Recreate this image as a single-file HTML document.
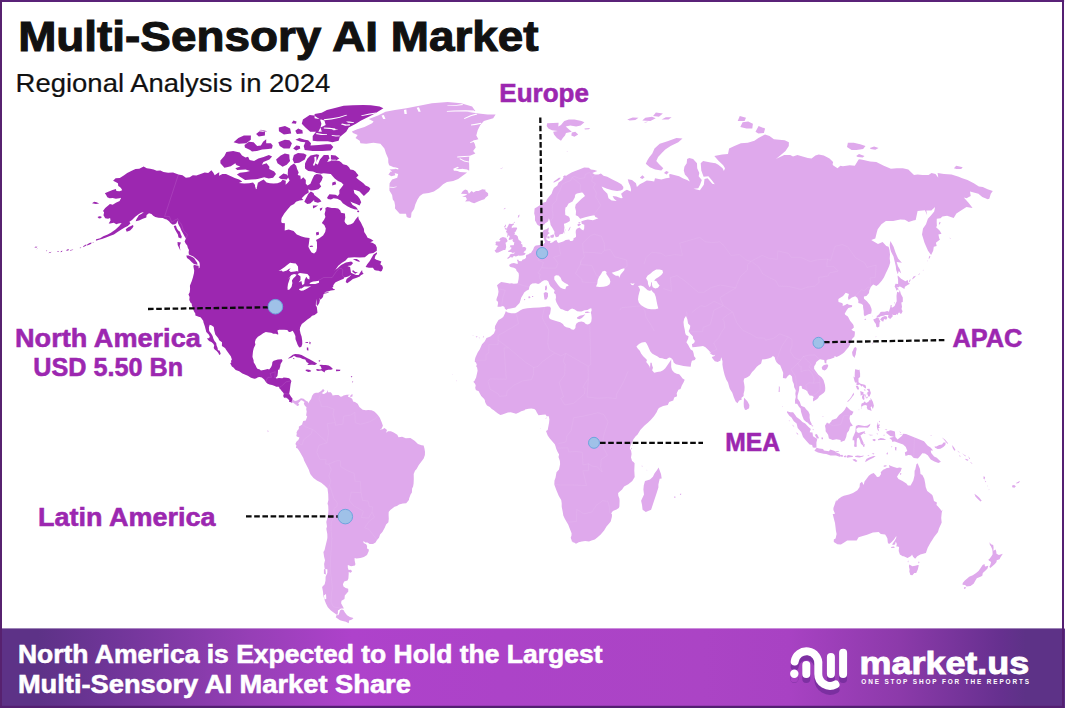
<!DOCTYPE html>
<html lang="en">
<head>
<meta charset="utf-8">
<title>Multi-Sensory AI Market - Regional Analysis in 2024</title>
<style>
html,body{margin:0;padding:0;background:#fff;}
body{width:1065px;height:708px;overflow:hidden;font-family:"Liberation Sans",sans-serif;}
svg{display:block;position:absolute;left:0;top:0;}
text{font-family:"Liberation Sans",sans-serif;}
.b{font-weight:bold;}
.lbl{font-weight:bold;font-size:25.2px;fill:#9c27b0;stroke:#9c27b0;stroke-width:0.55;}
.ft{font-weight:bold;font-size:24.9px;fill:#fff;stroke:#fff;stroke-width:0.55;}
.dash{stroke:#0a0a0a;stroke-width:2.3;stroke-dasharray:5.6 2.6;fill:none;}
.dot{fill:#9fc1e8;stroke:#6ea4de;stroke-width:1;}
</style>
</head>
<body>
<svg width="1065" height="708" viewBox="0 0 1065 708">
<defs>
<linearGradient id="fg" gradientUnits="userSpaceOnUse" x1="0" y1="0" x2="1065" y2="0">
<stop offset="0" stop-color="#5d3287"/>
<stop offset="0.036" stop-color="#5d3287"/>
<stop offset="0.10" stop-color="#6e3597"/>
<stop offset="0.235" stop-color="#963fb6"/>
<stop offset="0.33" stop-color="#ae42cb"/>
<stop offset="0.47" stop-color="#ac43c8"/>
<stop offset="0.66" stop-color="#ab44c5"/>
<stop offset="0.74" stop-color="#a842c3"/>
<stop offset="0.845" stop-color="#8c3aaa"/>
<stop offset="0.94" stop-color="#66308f"/>
<stop offset="0.963" stop-color="#5d3287"/>
<stop offset="1" stop-color="#5d3287"/>
</linearGradient>
</defs>
<rect x="0" y="0" width="1065" height="708" fill="#fff"/>
<!-- world map -->
<g id="map" stroke-linejoin="round">
<path d="M292.5 398.5L293.3 399.9L295.0 400.9L297.2 400.5L299.5 399.3L300.9 398.3L303.6 398.8L305.3 400.2L306.8 401.3L306.5 405.7L305.1 406.0L304.3 404.7L303.8 403.1L304.7 402.1L303.3 401.2L301.9 400.2L300.5 400.5L300.0 401.5L298.8 402.5L298.2 403.4L299.3 404.7L298.2 405.8L296.8 406.0L296.3 404.4L295.2 404.4L294.3 403.4L293.0 402.6L291.3 403.3ZM395.3 175.3L391.3 176.3L388.4 174.4L390.7 171.5L394.3 172.0ZM465.1 201.4L469.3 201.2L471.8 202.5L474.2 203.2L478.1 201.6L481.9 200.1L484.4 199.2L485.7 197.4L488.2 195.6L488.1 193.3L485.2 191.1L485.7 189.7L482.3 189.3L478.5 190.9L476.0 190.9L473.5 192.4L471.6 191.1L468.9 193.8L467.4 190.2L465.2 189.5L462.9 191.1L461.0 193.8L466.0 194.0L467.2 194.7L462.1 196.7L465.8 196.9L466.9 199.2ZM409.2 218.1L406.7 217.0L406.0 213.8L399.7 213.8L397.7 211.5L395.0 208.4L395.1 205.4L394.3 201.4L392.8 199.6L392.1 195.1L389.4 190.6L389.4 187.2L389.6 183.3L392.1 179.6L397.2 177.7L398.2 173.9L394.2 173.0L389.5 169.6L395.9 169.1L392.6 166.7L389.1 165.3L388.3 162.4L388.2 158.4L386.0 153.5L384.4 148.4L380.4 143.8L373.5 142.8L366.2 143.8L360.4 143.3L359.7 140.7L355.5 138.1L357.7 135.0L353.0 132.9L351.9 131.6L357.2 129.2L364.5 127.0L372.1 123.3L373.6 121.6L368.8 118.9L378.0 115.6L385.5 111.7L394.9 110.0L406.4 108.3L418.0 106.1L431.9 103.2L447.7 102.1L461.1 103.2L472.1 106.6L475.3 111.1L467.3 111.7L478.5 113.6L487.6 114.5L495.6 114.5L493.2 118.3L483.9 121.1L480.3 124.9L477.7 130.2L476.3 135.5L478.4 139.2L472.9 140.7L474.7 143.8L475.7 147.4L473.1 150.9L475.4 153.5L469.3 155.9L469.0 160.9L469.2 165.8L469.2 170.6L462.5 168.7L455.1 170.1L459.9 172.0L467.1 172.5L463.3 175.3L458.2 179.1L453.2 181.0L447.0 181.9L443.1 184.2L439.1 187.9L433.9 191.5L428.8 192.9L423.0 193.8L419.8 196.0L417.5 199.6L415.3 204.5L414.1 208.9L411.5 212.7L411.0 217.5ZM343.5 609.9L344.9 612.5L347.1 615.3L349.9 617.1L353.5 617.9L352.0 619.4L349.1 620.6L348.7 623.2L345.9 621.8L342.7 621.0L340.0 620.2L335.7 617.3L336.7 614.9L338.3 615.3L339.3 612.9L340.0 610.5L341.6 609.5ZM325.4 568.6L323.9 569.4L323.9 573.8L325.9 574.5L325.7 571.2ZM349.8 396.8L351.0 394.8L352.7 394.3L352.3 396.7ZM380.6 429.6L383.7 429.0L387.0 430.0L385.9 433.1L383.1 434.1L380.6 432.2ZM326.0 594.1L323.8 595.6L324.6 599.5L326.3 598.7ZM306.8 401.3L308.0 401.8L308.4 403.6L309.4 401.2L311.1 398.9L312.1 395.7L313.8 393.6L315.8 392.8L318.3 392.8L321.1 391.1L323.0 389.1L324.5 390.2L323.9 391.5L322.0 393.1L323.0 394.0L324.6 393.8L326.6 392.5L326.9 391.9L327.5 389.9L328.0 392.2L330.8 392.3L332.1 394.1L332.6 395.4L335.7 395.1L338.5 395.1L340.7 396.7L342.0 396.5L343.5 395.4L346.8 394.8L349.9 394.8L347.9 395.7L348.2 396.7L350.9 397.7L352.3 398.9L353.1 401.5L355.0 402.1L357.7 403.8L359.4 407.1L362.7 409.8L366.0 410.3L368.2 410.0L371.5 410.3L374.3 411.4L376.2 413.2L378.0 415.3L379.8 417.8L381.8 422.6L382.9 425.8L381.7 428.4L379.8 430.0L382.6 429.3L384.5 428.0L387.0 430.0L385.6 433.1L388.1 431.2L390.9 431.2L393.7 432.5L397.3 434.7L398.5 437.3L402.1 436.7L405.7 438.3L410.4 438.1L414.6 440.8L418.0 444.0L421.6 445.3L423.6 445.6L424.4 448.2L425.0 451.8L424.9 454.9L423.7 458.4L420.7 462.6L418.8 464.9L416.6 469.0L415.0 470.7L413.7 473.9L413.8 478.8L413.6 483.6L413.1 486.6L412.1 488.6L411.9 492.5L410.6 494.5L409.1 498.4L408.9 500.1L406.2 503.2L402.9 503.4L399.1 504.4L397.0 506.1L394.5 506.7L390.3 510.1L388.7 512.1L388.6 515.1L388.8 518.8L388.4 522.2L386.1 524.6L384.6 528.0L382.4 532.1L380.1 534.5L379.0 537.7L377.0 539.9L375.5 542.5L373.0 544.1L369.7 543.9L367.4 542.5L365.1 542.4L363.5 540.8L363.6 542.9L366.2 544.3L367.1 546.0L367.0 548.5L368.7 549.2L368.8 551.0L367.0 554.9L363.9 557.1L360.5 558.1L356.5 558.5L354.6 557.9L354.6 560.3L355.4 563.9L355.0 565.4L351.1 566.3L347.8 565.0L347.8 567.5L348.6 570.1L350.9 569.7L352.1 571.2L350.7 572.7L348.7 571.9L348.7 574.1L348.4 578.6L347.5 580.5L344.2 581.6L342.9 584.2L343.5 586.5L345.7 588.0L348.2 588.8L348.3 591.4L344.8 595.6L344.5 599.1L341.5 600.7L341.1 603.2L343.9 608.5L341.0 608.5L337.9 610.5L337.9 613.3L337.2 614.9L334.3 612.9L330.9 610.5L327.8 607.3L325.9 603.4L324.4 599.5L323.3 595.6L323.0 591.8L322.1 586.9L324.7 584.2L325.5 580.5L325.6 576.7L327.3 573.0L327.4 569.4L324.6 568.6L324.1 563.9L325.0 560.3L324.1 556.7L323.4 552.1L324.5 550.3L325.5 546.0L327.2 539.1L327.4 537.3L327.3 533.9L326.3 528.7L327.0 526.6L326.3 521.9L327.6 516.8L328.2 513.4L328.4 510.1L328.2 505.6L327.5 503.7L328.4 500.1L328.2 494.1L327.5 488.6L324.6 485.6L321.2 482.7L316.9 480.4L313.5 478.1L310.6 474.5L310.0 473.3L308.7 469.4L307.7 467.6L306.0 464.2L304.2 460.7L303.3 458.1L301.3 454.6L299.6 451.4L297.6 448.5L295.9 447.8L296.4 445.6L295.4 443.9L296.6 441.4L298.3 439.9L299.1 438.6L299.3 437.0L298.2 437.3L296.6 436.3L296.3 436.0L296.8 433.8L296.5 432.4L297.6 430.3L298.8 429.0L298.9 426.4L300.0 426.0L302.1 424.5L302.4 423.3L303.2 421.0L305.8 420.4L307.2 416.6L306.1 415.6L306.7 411.4L306.2 409.2L306.5 407.3L305.1 406.0L306.5 405.7ZM506.7 310.2L504.8 308.4L504.5 307.0L502.9 305.9L500.5 306.7L497.5 306.7L498.1 303.1L497.9 301.7L496.3 300.2L496.8 298.1L497.9 295.2L498.5 291.7L498.0 288.6L497.0 285.3L499.7 283.1L501.3 282.0L505.8 282.7L509.8 283.5L511.7 283.3L513.8 283.7L517.0 283.5L517.8 283.1L518.6 279.0L518.9 275.3L518.6 273.0L516.5 270.8L516.0 268.9L513.9 267.7L510.5 267.0L509.4 266.0L509.3 264.7L511.3 263.5L513.9 262.9L516.5 263.7L517.9 263.7L517.6 261.6L516.8 259.7L518.4 259.7L518.9 261.0L521.3 261.2L522.1 260.4L522.3 259.7L524.7 258.9L526.0 257.7L526.0 255.8L526.6 254.8L528.1 254.4L529.4 253.6L530.9 253.0L532.2 251.0L533.2 249.5L534.1 246.9L535.8 245.5L539.7 245.1L540.5 243.9L542.5 243.9L543.8 244.3L544.3 243.1L545.1 243.1L544.8 241.5L544.0 239.1L543.2 236.6L542.6 234.6L542.6 232.1L543.8 230.0L546.4 229.2L548.9 227.4L548.5 230.5L548.2 232.1L549.8 232.9L548.0 234.2L547.0 236.6L546.3 238.6L546.3 239.5L548.2 241.1L550.5 241.1L550.0 242.9L551.6 242.7L553.1 242.1L554.1 240.9L556.4 240.1L557.5 242.3L558.8 243.1L559.3 242.7L563.2 241.5L565.7 239.9L569.3 239.5L570.1 241.1L572.2 241.1L573.5 239.9L573.4 238.6L575.9 237.0L576.1 235.8L575.7 232.5L575.8 230.5L576.8 228.8L579.6 227.4L581.2 229.2L583.3 230.5L584.2 228.4L584.3 224.8L581.7 223.8L581.3 221.3L584.6 220.2L587.8 219.6L593.0 220.2L598.4 218.3L595.3 217.0L594.4 215.3L590.2 216.0L585.2 217.2L580.2 218.7L578.0 216.2L575.7 215.3L575.9 213.2L576.0 211.0L575.1 207.5L575.7 204.5L578.8 201.4L581.6 198.7L585.0 196.0L582.8 192.7L581.5 192.4L576.9 193.6L575.2 194.7L574.8 197.4L572.5 201.4L568.6 203.6L566.8 206.7L565.5 207.5L565.1 210.6L565.3 214.9L568.7 216.6L569.8 218.3L569.9 220.9L567.4 222.5L565.1 223.4L563.9 223.8L564.5 227.4L563.9 231.9L562.9 233.8L561.9 234.0L559.6 234.6L558.6 236.4L557.4 237.0L555.8 237.2L555.3 236.2L554.5 234.4L554.2 232.9L554.6 231.9L552.2 227.6L550.6 225.1L550.1 222.1L548.9 218.3L548.2 220.9L547.3 222.1L545.5 223.0L544.2 224.4L542.2 225.9L539.8 226.3L537.1 224.6L536.1 222.3L535.0 220.4L535.0 216.2L534.2 213.6L534.4 211.0L534.6 208.4L537.1 207.1L541.1 204.5L543.1 202.7L546.1 201.8L546.8 199.6L549.2 196.5L551.6 193.8L552.7 190.6L553.9 187.9L557.3 185.6L558.6 182.4L562.2 180.0L563.3 177.7L568.1 174.4L571.6 172.5L575.2 171.1L579.2 169.6L584.2 167.5L588.8 167.7L590.9 169.6L594.5 170.1L597.3 171.1L592.3 173.0L594.8 174.4L598.5 174.4L600.9 173.4L603.5 175.8L607.2 176.7L612.4 179.6L617.5 181.9L621.4 184.2L623.4 187.0L623.1 189.3L620.8 190.6L617.1 191.1L612.1 190.2L607.0 188.8L601.6 186.5L603.4 189.7L607.4 193.8L608.5 198.3L611.7 200.5L616.7 201.0L614.0 198.7L612.6 196.0L616.3 196.5L621.0 198.3L622.7 198.1L621.1 193.8L624.5 191.1L626.9 189.7L630.8 191.5L631.0 189.3L630.2 186.1L628.6 182.4L627.8 179.3L632.0 180.0L636.0 183.3L636.9 187.0L639.8 184.2L643.3 182.4L646.7 180.5L651.7 181.0L654.2 181.4L655.0 178.2L661.3 179.6L666.0 178.2L669.6 177.7L669.1 174.4L670.3 173.9L679.1 176.3L683.2 178.6L687.1 180.0L689.8 181.4L687.9 177.7L684.9 174.4L683.8 170.6L684.4 166.7L686.7 163.3L687.1 158.9L689.3 157.9L693.1 158.9L697.0 163.3L697.2 168.2L699.3 173.0L698.7 176.3L701.8 180.0L700.1 184.7L698.3 188.3L693.5 188.8L699.9 190.2L703.8 184.7L704.5 179.1L707.6 178.2L712.3 183.7L714.8 184.2L711.6 180.0L708.4 176.3L703.6 176.7L701.3 170.6L700.7 163.3L703.1 160.9L708.1 161.9L710.6 162.4L715.6 163.3L718.3 164.8L722.6 168.2L723.9 171.1L725.0 168.2L723.2 165.3L718.7 160.9L714.3 155.9L722.1 154.5L728.0 154.0L729.1 148.4L734.4 145.9L740.9 143.3L747.8 142.8L754.4 140.7L758.4 138.1L765.0 134.4L769.5 136.0L773.9 139.2L784.7 140.2L788.9 142.3L788.8 145.9L785.5 150.9L782.6 153.5L777.8 157.4L775.8 158.9L784.2 155.0L790.2 155.0L793.0 156.4L797.4 155.0L807.8 157.9L811.6 158.4L815.4 155.4L818.7 154.5L823.8 155.4L829.5 158.4L833.1 161.9L832.6 164.3L833.0 165.3L837.5 168.2L840.4 165.8L842.9 166.2L846.4 165.8L849.8 165.3L854.8 165.8L857.1 161.9L858.6 159.4L859.7 159.2L863.6 159.9L870.1 161.4L876.3 161.9L883.8 165.8L890.9 168.7L896.8 168.2L902.9 168.2L908.3 169.6L914.0 174.9L917.5 174.4L922.5 174.9L928.6 174.9L931.5 173.0L935.5 173.9L938.3 177.7L937.6 173.0L944.0 173.9L951.5 174.4L958.7 176.7L961.6 177.9L967.5 180.0L973.8 183.3L978.9 186.5L982.8 187.0L987.6 189.3L992.8 191.1L990.8 193.8L989.3 198.7L987.7 199.2L982.3 196.9L978.4 193.8L970.0 191.5L970.7 196.0L966.6 198.3L963.8 197.4L968.5 202.7L972.6 208.0L966.5 207.1L961.4 210.2L956.4 213.6L953.7 217.9L947.1 215.8L942.4 216.6L940.5 218.3L936.8 218.7L936.7 222.1L936.9 226.3L935.9 227.1L939.6 230.5L941.5 233.8L938.4 234.6L939.3 238.6L940.0 239.5L935.9 242.7L936.7 245.9L933.8 246.7L933.2 250.7L931.1 255.0L928.0 250.7L924.5 242.7L922.0 234.6L923.0 228.4L926.0 224.2L927.9 218.7L930.7 215.8L934.2 211.5L935.1 207.1L931.3 210.6L926.3 210.6L927.2 215.3L924.9 210.2L917.6 211.0L915.7 220.0L913.3 220.4L908.7 222.1L904.9 219.8L900.3 219.6L893.1 220.9L885.9 220.9L881.4 224.2L877.7 229.2L876.7 232.7L875.3 238.6L871.2 239.9L875.9 242.7L878.0 243.9L882.6 241.9L886.3 245.9L888.6 246.7L889.5 249.9L890.0 254.6L889.7 258.5L890.2 262.4L889.1 266.2L887.4 270.0L885.6 273.8L883.9 277.5L881.9 280.5L878.7 284.2L876.4 286.1L873.2 284.6L871.2 286.4L870.6 287.5L869.3 290.5L869.0 293.0L866.4 295.9L863.9 296.6L864.0 298.8L866.9 301.3L870.0 304.9L871.4 308.4L871.7 310.2L871.2 313.4L868.4 314.2L864.6 316.2L863.8 314.4L863.7 310.9L863.1 307.4L863.0 305.1L861.1 303.8L858.3 303.1L858.4 300.6L857.3 297.7L855.2 296.3L851.9 297.4L848.6 299.9L848.0 297.7L848.9 294.1L845.7 292.8L843.1 295.9L838.7 298.8L838.3 299.5L838.5 302.0L841.9 303.1L842.8 303.8L842.7 305.9L845.2 304.9L847.1 303.8L848.9 304.7L852.2 305.2L852.0 307.0L848.4 308.1L846.8 310.0L844.7 313.7L845.2 314.8L847.9 316.5L850.1 320.7L852.8 324.1L853.5 325.2L853.9 327.6L851.4 329.7L853.3 331.0L854.9 331.4L854.8 334.4L854.3 336.8L852.6 338.2L851.0 341.2L850.1 344.6L848.5 347.3L846.5 349.6L844.3 352.3L842.8 353.6L839.7 355.6L836.6 356.9L834.5 355.9L834.4 357.6L830.4 358.9L827.7 359.6L826.4 360.6L826.4 363.5L824.7 362.9L824.2 359.9L822.5 359.7L820.2 359.2L819.4 359.6L816.3 361.9L815.7 363.9L814.2 366.2L814.1 368.8L816.0 371.4L818.4 374.7L821.6 377.3L823.5 379.9L824.9 384.7L825.3 388.0L825.1 390.9L823.9 392.8L821.2 394.8L819.3 395.9L818.3 397.7L817.2 398.9L813.1 401.5L813.0 398.6L813.8 397.0L812.1 395.7L809.6 395.4L807.8 392.8L807.5 391.5L805.7 389.9L802.0 388.5L801.6 386.0L800.5 385.7L799.2 386.4L799.2 389.0L798.8 391.2L797.6 395.4L797.5 398.6L799.8 401.8L801.0 405.4L801.6 406.0L804.7 407.3L806.1 409.2L808.4 411.4L809.7 414.6L809.6 417.8L810.2 421.0L811.9 424.2L811.4 424.9L810.0 424.9L807.2 422.3L806.3 422.0L803.8 419.7L802.4 416.2L801.0 411.8L800.6 408.6L799.1 407.0L797.1 403.8L795.1 403.8L795.0 400.2L795.8 397.0L795.3 393.8L795.8 390.6L794.2 387.3L793.8 384.1L792.5 380.9L792.0 376.6L789.9 374.4L788.0 375.7L786.0 378.4L782.9 377.9L783.2 372.7L781.5 368.5L780.2 365.2L778.2 364.0L776.3 361.9L775.4 359.9L774.6 356.9L772.9 355.9L771.3 357.6L768.4 358.6L765.1 359.2L762.1 359.6L761.5 362.2L761.0 363.7L758.6 365.2L756.8 366.8L754.2 370.1L752.1 372.1L749.6 375.7L746.9 377.6L744.2 378.6L743.6 380.9L744.2 384.1L744.6 387.0L744.4 390.6L743.6 393.8L743.6 396.0L741.3 398.0L741.9 399.4L739.2 400.5L737.4 403.2L735.6 401.5L733.8 397.3L732.3 392.8L729.9 389.0L729.3 387.3L728.0 382.5L726.2 379.6L724.6 375.0L723.6 371.1L722.9 367.8L722.4 364.5L722.5 361.2L721.8 358.9L721.5 357.3L720.7 358.9L720.6 360.6L717.6 362.1L714.8 361.2L712.4 358.3L711.8 356.9L714.5 355.9L715.3 354.8L713.1 355.3L710.8 353.9L709.3 352.3L715.0 355.3L713.1 354.9L710.6 352.4L708.1 349.8L705.5 347.3L703.0 346.0L699.6 346.4L695.3 346.9L692.4 347.3L691.9 344.3L694.1 343.1L694.9 340.9L693.2 338.8L692.8 336.3L690.3 333.7L688.6 331.2L689.8 328.6L690.3 325.7L688.1 323.6L687.3 319.3L686.0 315.9L684.3 318.5L683.5 321.9L683.9 326.1L684.7 329.5L685.2 332.9L686.0 335.0L688.6 336.3L688.1 338.8L686.4 342.2L688.1 344.7L689.4 347.3L690.7 349.4L692.8 350.7L693.6 353.2L694.1 356.2L695.8 358.3L694.9 360.0L691.9 360.8L691.1 363.4L690.7 366.8L687.7 366.4L683.5 365.9L679.2 365.1L675.8 364.2L673.7 362.5L672.9 360.0L671.2 357.9L669.1 357.5L666.5 359.2L664.4 359.0L662.3 358.3L659.7 357.9L657.2 356.2L654.7 354.9L652.1 353.6L650.4 351.5L649.2 349.0L647.9 346.0L646.6 343.5L645.3 342.0L641.9 342.6L639.0 343.9L636.4 346.4L637.7 348.6L639.8 350.7L641.1 353.6L643.2 356.2L645.3 358.3L647.0 360.0L645.8 363.0L646.2 361.9L647.9 364.0L649.6 366.5L650.0 368.2L650.4 362.7L651.7 362.7L652.1 365.3L653.0 367.8L652.1 370.3L654.2 372.7L657.2 372.0L660.6 371.6L663.1 370.3L665.3 368.2L667.4 365.3L669.1 362.7L670.8 360.2L671.2 358.1L671.2 362.7L671.2 366.9L672.0 369.9L674.2 372.5L676.7 373.7L679.2 374.2L680.9 376.3L682.6 378.4L684.7 379.7L683.5 382.6L681.8 385.6L680.5 389.0L678.4 389.8L676.7 393.2L677.1 396.2L674.2 397.5L673.3 400.4L669.1 402.1L667.8 405.1L663.1 405.9L658.9 408.1L657.6 410.0L656.8 411.9L654.0 416.2L650.7 420.1L648.1 422.5L644.3 425.8L640.3 430.1L637.6 434.4L635.7 436.3L633.4 439.2L632.3 441.9L630.6 445.3L629.8 448.2L631.1 450.7L631.6 453.9L631.0 457.5L632.1 461.0L633.5 462.0L634.6 463.2L634.3 470.7L634.6 475.5L634.7 477.1L632.3 481.0L628.3 484.3L624.1 486.6L622.1 489.5L618.1 493.0L618.3 495.8L619.4 498.4L619.6 500.7L619.4 506.4L618.8 508.1L616.5 509.4L612.9 511.1L611.2 513.3L612.0 514.4L611.9 516.8L610.7 521.5L609.5 522.9L606.5 526.5L604.1 530.4L600.7 534.5L597.6 537.3L594.8 539.4L591.5 540.6L589.0 541.5L585.2 541.1L581.8 541.5L578.7 542.2L576.0 543.7L574.1 542.5L572.7 542.2L572.0 541.1L571.9 542.0L571.7 540.4L570.7 537.7L571.5 535.6L571.6 533.2L569.8 528.7L568.2 524.6L566.8 522.2L564.8 518.8L563.3 515.6L562.7 511.7L561.7 506.7L561.7 503.2L561.2 500.1L558.8 496.1L556.3 489.9L554.3 484.5L554.5 480.4L555.5 477.8L556.5 472.3L559.0 469.4L560.1 464.2L559.9 461.0L558.5 457.1L559.1 454.6L557.4 451.4L556.0 448.3L555.7 446.7L554.8 444.3L552.4 441.4L549.6 438.3L547.7 435.4L546.0 431.1L547.7 430.0L548.1 427.7L548.5 425.8L549.1 422.6L549.4 419.6L548.8 416.2L546.7 416.2L545.5 414.6L542.7 414.8L538.5 415.3L536.8 412.4L535.7 410.2L534.3 408.9L531.3 408.6L528.5 408.7L525.1 409.5L524.6 410.3L521.2 411.3L519.0 412.4L516.0 413.8L513.5 412.9L510.7 412.2L507.9 412.6L505.1 413.5L502.3 414.6L500.4 415.1L497.9 413.4L495.9 412.1L493.8 410.2L491.8 408.9L489.8 407.0L487.0 405.4L485.9 403.8L485.0 401.8L484.8 399.9L483.7 398.6L481.2 396.0L480.1 394.1L478.5 391.1L476.6 390.6L475.5 389.3L475.2 387.0L475.8 385.9L475.2 384.1L473.3 381.8L474.4 380.9L476.1 377.6L477.6 370.8L477.1 367.5L476.2 366.5L476.8 364.2L475.5 361.9L474.8 361.9L474.9 359.6L475.5 357.3L477.8 352.3L479.8 349.3L482.0 344.2L484.8 341.2L486.5 338.0L490.4 336.5L493.9 333.4L495.5 329.7L494.8 328.8L495.1 325.9L496.7 323.1L498.5 320.0L501.2 318.6L503.2 317.0L504.7 314.1L505.9 310.9L507.5 310.5ZM506.9 258.3L508.2 258.7L510.8 257.1L512.2 257.7L514.0 255.8L515.4 256.5L516.8 256.2L518.4 255.6L519.7 255.8L522.5 255.6L524.3 255.0L525.3 254.0L525.6 253.0L523.6 252.8L524.1 251.6L525.2 250.9L526.4 248.7L525.2 246.9L523.1 246.9L522.1 247.3L522.7 246.3L522.2 244.3L521.0 243.9L521.5 242.3L520.2 240.7L518.8 240.1L518.2 238.6L517.7 236.2L516.7 235.4L516.3 235.0L514.1 234.6L515.1 233.5L514.4 232.7L515.5 231.7L516.5 229.8L517.2 228.4L516.7 227.6L513.4 227.6L511.3 228.2L512.1 226.9L511.6 226.3L513.9 224.4L514.0 223.6L511.6 224.0L509.1 223.8L508.3 225.5L507.0 228.0L507.2 229.6L505.9 231.7L507.4 232.9L507.4 235.4L506.8 237.4L507.9 236.6L508.9 235.0L509.4 236.2L509.8 236.8L508.9 238.6L508.5 239.3L509.3 240.1L511.5 239.5L512.8 238.9L512.5 240.7L513.5 242.3L514.4 242.3L514.0 243.7L513.9 244.9L513.2 245.3L511.8 245.3L509.9 245.5L510.4 246.3L509.5 247.5L511.2 247.1L511.3 248.7L509.6 250.3L508.0 251.0L508.5 252.0L510.6 252.0L511.5 252.2L512.7 253.0L513.6 252.8L514.9 252.2L514.0 253.8L511.9 253.8L510.0 254.6L509.3 256.2L507.9 257.5ZM502.9 237.1L505.8 237.8L506.8 239.1L507.1 239.9L507.7 241.1L506.5 242.3L505.5 242.7L506.0 245.3L506.2 246.9L505.3 250.0L503.6 250.1L502.0 250.7L500.4 251.4L498.3 252.4L496.2 252.8L495.2 251.6L494.6 250.3L496.0 249.5L496.6 248.5L496.1 248.5L497.4 246.7L498.4 245.9L495.4 245.1L495.9 243.5L495.4 242.7L496.2 241.5L498.5 241.5L499.6 241.5L500.6 240.3L499.1 240.1L500.4 238.0ZM550.1 235.8L553.4 234.2L554.2 235.8L553.3 237.8L550.7 237.8ZM547.0 236.6L549.4 236.2L549.7 238.2L547.6 238.6ZM568.2 230.5L570.1 226.7L570.6 227.1L569.7 229.6L568.7 230.9ZM563.9 233.8L565.3 229.2L565.6 229.2L564.4 233.3ZM577.4 224.2L579.2 223.8L581.2 224.2L580.0 225.5L578.0 226.3ZM578.1 222.5L580.1 221.9L580.4 223.0L578.9 223.4ZM553.5 182.8L556.1 181.4L559.0 180.0L560.9 177.7L558.9 177.7L556.6 179.6L553.7 181.4ZM562.8 176.7L565.2 174.9L565.7 176.3L563.8 177.5ZM517.7 218.3L519.3 216.6L519.5 214.5L518.3 215.3L518.0 217.0ZM513.4 222.5L514.9 221.7L514.9 222.7ZM503.9 227.1L506.0 224.2L506.0 225.9L504.7 227.6ZM504.6 228.8L505.9 227.6L507.2 229.2L506.2 230.0ZM505.6 233.3L506.9 232.5L507.2 233.1ZM503.4 209.3L505.2 207.8L505.4 209.1ZM561.0 140.7L556.9 138.1L554.0 134.5L553.2 131.8L557.8 131.0L552.0 130.2L548.4 128.6L546.7 126.0L547.1 123.3L552.9 123.0L558.6 122.7L558.3 126.5L561.0 124.9L563.2 122.2L564.3 121.1L568.8 119.4L574.5 119.4L581.5 121.1L584.4 122.2L580.7 125.4L576.1 126.5L570.3 125.4L565.7 126.5L569.4 129.7L571.8 131.8L566.0 132.9L565.0 135.5L562.8 138.1ZM571.3 135.5L574.4 136.8L578.2 134.5L575.3 131.8L571.8 132.4ZM584.4 128.6L590.1 128.1L589.0 129.2L584.9 129.4ZM566.5 151.7L567.6 150.9L567.4 151.7ZM500.0 168.9L502.5 167.5L502.7 167.9L500.5 169.1ZM661.3 170.6L655.1 169.6L649.9 167.2L645.8 163.8L647.3 160.4L649.1 157.4L652.3 153.5L654.5 148.4L659.7 143.8L667.5 141.3L676.4 138.1L682.5 138.4L678.3 142.3L670.6 145.9L665.3 149.4L661.8 153.0L658.1 156.9L656.3 160.9L659.2 164.3L663.3 168.2ZM664.0 173.0L666.2 171.1L668.8 172.0L666.7 174.4ZM639.8 177.7L642.4 175.3L644.6 177.2L642.4 179.1ZM627.2 119.4L632.7 117.5L638.5 117.8L635.3 120.0L629.7 120.5ZM642.3 120.5L645.3 117.8L652.0 116.7L655.7 118.3L650.4 121.1ZM653.1 116.1L655.9 112.5L662.9 113.4L658.9 116.7ZM661.6 119.4L665.8 117.2L671.6 117.2L668.5 119.4ZM643.7 122.2L648.2 121.4L646.0 122.4ZM740.3 127.0L742.6 122.2L748.2 121.6L752.9 123.8L752.3 128.4L746.5 128.6ZM755.5 131.8L758.6 126.0L765.1 128.6L763.9 132.9L758.3 133.4ZM737.7 121.1L739.8 115.9L746.0 117.8L744.6 121.1ZM847.0 146.9L847.9 142.8L853.8 142.8L860.2 144.3L865.5 145.9L863.1 148.9L856.4 149.9L851.6 149.9ZM869.9 147.9L874.1 146.6L878.6 147.9L875.3 149.7L870.7 148.9ZM856.2 155.9L859.0 154.0L864.5 155.9L862.7 157.4L857.7 156.9ZM953.9 168.2L956.2 165.8L962.7 167.2L961.2 168.9L956.5 169.1ZM890.4 241.1L893.6 246.7L895.5 252.6L898.1 258.5L901.9 262.7L896.7 262.0L898.0 266.2L899.8 269.2L901.2 273.6L898.7 271.1L897.8 274.2L896.2 270.0L895.8 266.2L894.9 262.4L893.5 256.5L891.1 251.8L890.2 248.7L889.7 245.1ZM896.7 290.8L895.5 287.9L894.6 286.4L895.5 283.7L898.1 283.9L898.1 280.1L897.6 276.8L897.8 275.6L901.1 278.7L905.4 281.3L907.8 280.0L908.2 282.7L910.0 283.7L907.6 285.0L904.9 286.8L904.4 288.9L900.6 286.8L899.4 286.4L898.1 287.5L896.3 286.8L898.1 288.6L899.0 289.4L897.7 289.5ZM898.5 290.5L900.0 290.8L900.9 294.1L902.8 297.4L902.8 302.0L901.3 302.4L902.0 306.7L901.5 309.1L902.6 311.2L901.5 313.4L900.4 314.1L899.8 311.6L899.7 313.0L898.3 312.8L897.9 315.1L896.7 313.7L896.1 315.1L892.9 315.1L892.2 313.7L892.8 316.2L890.2 319.1L888.2 317.6L888.0 316.5L888.5 314.9L887.4 314.9L884.8 315.1L884.6 315.5L880.6 316.2L879.2 317.2L876.7 317.4L876.8 315.8L877.8 315.6L879.3 314.1L880.6 312.1L882.0 311.8L884.7 311.8L887.3 311.1L889.0 311.8L889.3 310.2L890.5 306.8L890.3 305.6L891.9 304.9L891.4 307.2L892.5 307.4L894.6 305.9L895.6 303.6L896.7 301.3L896.5 296.1L896.8 293.7L897.1 291.7L899.0 292.6L899.5 291.6ZM880.1 319.5L881.7 317.6L882.4 316.9L885.0 316.0L886.8 316.5L887.3 317.9L886.1 319.8L884.1 318.9L883.2 321.7L881.6 320.7ZM876.9 317.4L879.3 318.6L879.3 319.8L880.4 321.4L879.7 322.1L879.4 324.5L879.4 326.4L877.7 327.6L876.3 326.7L875.9 324.1L875.2 323.1L874.4 322.1L873.8 320.7L873.2 319.5L874.4 318.9L875.6 318.4ZM893.9 303.1L894.5 302.0L894.9 303.4ZM872.1 316.9L872.5 314.8L872.4 316.5ZM864.2 319.6L865.3 318.8L866.3 319.1L865.4 320.0ZM871.8 344.2L872.6 342.6L873.3 341.9L872.3 343.9ZM875.4 337.0L876.4 336.1L876.0 337.2ZM908.6 282.4L909.6 279.8L910.9 279.6L909.6 282.0ZM911.9 279.4L913.5 276.4L916.0 275.7L914.2 277.9ZM917.8 275.3L919.8 273.0L919.6 274.2ZM922.7 270.8L923.4 269.6L923.4 270.6ZM927.4 261.2L927.9 260.0L927.9 261.2ZM928.5 258.5L929.5 255.8L930.4 256.2L929.5 258.5ZM938.7 224.2L939.6 221.7L940.7 222.5L939.6 224.6ZM948.9 237.4L950.9 238.6L950.8 239.1ZM855.4 346.9L856.6 347.9L856.6 349.6L856.1 351.6L855.8 354.3L854.7 356.9L854.7 358.3L853.9 356.9L852.8 355.9L852.3 354.3L852.1 351.9L853.1 350.3L854.0 347.9ZM821.7 367.2L822.2 369.4L824.5 370.4L825.9 369.8L827.1 368.5L828.3 365.8L827.3 364.2L826.2 364.4L824.0 364.9L823.3 365.5ZM744.1 397.7L746.7 400.5L747.7 401.7L749.4 405.0L749.1 408.2L746.1 410.1L744.9 409.7L743.9 407.0L743.7 403.4L743.9 400.2ZM778.9 385.7L779.8 387.3L779.7 391.9L778.6 391.9L778.8 389.0ZM782.4 405.7L783.0 406.6L782.7 407.3ZM669.7 388.8L671.6 388.3L673.0 388.8L671.1 389.6ZM855.1 369.3L858.7 370.1L859.5 369.4L860.1 373.4L860.1 377.0L858.5 378.3L858.5 382.2L860.6 383.8L863.7 384.4L865.4 385.1L866.1 387.3L865.6 388.6L863.9 387.3L862.3 385.4L861.9 386.7L859.5 384.4L857.3 385.2L856.2 384.4L856.9 382.5L855.5 382.8L854.6 381.5L853.8 378.3L853.4 376.6L854.9 377.4L854.7 375.7L854.8 372.7ZM855.7 385.7L858.0 386.0L859.1 388.6L858.2 389.9L857.0 389.0ZM847.1 402.1L848.7 401.2L851.1 398.6L852.9 396.0L854.0 394.8L853.6 392.5L852.8 394.1L851.3 396.7L849.5 399.3L847.6 400.9ZM866.7 389.0L869.5 388.8L870.9 393.1L869.6 396.4L868.5 396.7L867.3 394.1L867.2 392.5L868.7 391.5ZM860.2 390.9L863.6 392.2L863.4 394.0L860.7 395.7L860.6 393.8ZM861.9 397.0L863.1 394.1L864.9 394.3L864.1 397.3L864.5 399.3L863.7 400.1L862.5 398.9ZM864.7 398.8L866.0 395.7L866.3 393.0L865.2 396.0ZM865.8 398.3L866.9 396.5L868.0 397.0L867.2 398.3ZM863.7 389.0L865.7 389.9L864.9 390.9ZM870.5 397.7L872.9 401.8L873.9 405.7L872.9 408.9L871.4 406.3L870.6 407.3L871.6 411.1L869.9 410.3L867.6 409.5L866.7 407.3L867.2 405.7L865.3 405.0L863.3 405.4L861.4 407.0L861.1 405.4L861.6 403.4L863.5 402.8L864.8 401.2L866.0 403.1L867.1 402.6L868.5 401.8L869.2 400.2L870.6 400.2ZM860.6 407.9L862.0 407.6L861.8 408.4ZM858.2 409.8L859.6 409.8L859.0 410.3ZM846.5 406.6L850.4 410.3L853.5 411.8L851.9 415.0L850.0 415.6L849.5 418.5L850.3 422.0L852.9 425.8L850.1 426.4L849.0 430.6L847.0 433.1L846.2 437.0L844.7 440.5L840.8 442.1L840.5 439.9L836.4 439.2L832.8 439.9L828.9 438.4L828.1 434.7L825.6 431.2L825.6 429.0L825.0 425.8L827.0 422.6L829.2 423.7L831.4 421.3L831.9 420.1L836.4 418.5L839.1 415.0L841.7 413.0L843.2 411.4L844.7 409.8ZM787.0 411.3L790.3 412.2L793.1 412.2L795.4 415.3L796.5 416.9L799.9 419.4L802.4 422.0L805.2 423.6L808.3 426.8L810.8 429.0L809.7 432.2L812.5 432.5L813.0 436.3L816.6 438.6L817.2 439.5L816.4 442.4L816.5 447.5L814.8 447.7L812.8 447.5L812.1 445.0L809.6 444.5L806.4 441.1L803.0 437.0L801.2 432.0L797.7 428.0L796.6 423.6L793.8 421.3L791.5 417.5L789.3 415.8L787.0 412.4ZM814.7 434.7L816.9 434.1L819.1 438.3L816.9 438.6L815.5 436.0ZM821.4 437.6L823.0 437.6L823.0 439.2L821.6 439.2ZM792.2 424.5L793.6 425.8L794.4 427.1L793.0 426.1ZM796.3 432.2L798.0 433.8L798.3 434.7L796.9 434.1ZM788.5 420.1L790.2 421.0L789.6 421.3ZM811.4 425.3L813.1 425.5L813.1 426.4L811.4 426.1ZM812.5 429.0L813.9 429.6L813.1 430.3ZM822.4 415.9L823.5 416.6L823.0 417.2ZM814.4 450.7L816.7 447.8L819.1 448.5L823.1 449.1L823.9 450.4L828.9 451.2L830.3 449.4L834.7 451.0L835.4 452.0L838.8 453.6L840.1 453.9L840.4 457.0L836.0 455.5L830.4 455.4L826.3 453.9L823.5 453.8L818.0 452.5ZM835.3 451.4L838.6 451.0L839.2 451.4L837.5 452.0L835.3 452.0ZM840.0 455.2L842.1 454.7L843.5 455.9L842.0 457.1L840.4 455.9ZM843.9 456.2L845.4 455.2L846.2 456.2L845.3 457.6L844.0 457.1ZM846.4 455.9L848.5 454.9L850.7 455.5L853.2 455.9L852.6 457.0L849.8 457.3L847.0 457.8ZM854.9 456.0L857.7 455.5L861.0 456.0L863.8 455.4L863.2 456.5L859.5 457.5L855.4 457.1ZM852.5 459.4L855.0 458.9L857.4 461.0L856.0 462.0L853.0 460.3ZM864.9 462.1L866.4 459.1L869.3 457.5L873.5 456.0L875.7 455.9L873.4 457.8L869.2 459.7L866.3 461.6ZM867.4 455.2L869.6 455.1L868.2 455.9ZM871.6 453.6L874.4 453.3L873.6 454.4ZM886.1 453.9L888.1 452.0L887.7 454.6ZM894.9 446.9L896.6 447.2L896.2 450.7L895.1 450.1ZM891.3 446.2L892.2 445.9L891.9 447.8ZM870.4 423.7L867.1 425.8L864.3 426.0L858.7 424.9L858.2 424.9L855.9 426.1L855.7 427.4L855.4 431.6L854.0 435.1L852.8 437.6L852.5 440.2L854.2 440.2L854.4 443.4L854.1 445.4L854.6 446.9L856.8 446.7L856.6 443.4L857.0 438.6L858.7 437.6L860.0 440.5L860.8 443.4L862.7 445.6L863.9 443.4L863.1 441.8L862.0 439.2L860.4 435.4L861.5 434.7L865.1 432.2L864.8 431.2L861.5 431.9L858.7 433.1L856.8 431.9L856.2 429.0L858.2 427.4L860.1 427.4L864.3 427.6L867.9 427.7L869.9 425.8ZM863.0 443.4L864.7 444.0L864.3 446.9L863.0 446.6ZM863.7 433.1L865.7 433.1L864.8 434.1ZM868.2 434.7L870.7 434.7L873.5 434.9L870.7 435.4ZM876.8 426.1L877.9 422.0L878.5 424.9L880.1 424.2L878.8 427.1L880.4 428.0L878.2 428.0L879.3 431.6L877.7 430.0L877.1 428.0ZM876.3 433.5L878.2 433.8L877.4 434.4ZM872.6 439.2L874.8 438.9L875.9 439.9L874.5 441.3L872.8 440.5ZM877.9 439.2L880.7 438.1L883.7 438.4L886.2 439.9L883.4 439.9L880.4 439.9L878.1 440.2ZM878.7 422.0L879.8 420.7L880.1 422.3ZM886.6 431.6L890.7 430.3L894.9 431.6L895.4 437.0L897.6 439.5L901.8 436.0L903.3 433.8L906.0 434.1L913.5 437.1L921.5 440.3L924.0 441.3L927.5 445.6L930.8 447.8L933.1 450.4L930.7 450.6L931.2 453.0L934.1 456.5L936.8 457.8L940.9 461.8L938.4 462.9L934.4 461.6L930.7 459.4L927.7 455.2L925.0 453.6L922.3 453.3L920.2 455.9L917.9 458.4L913.7 458.1L911.1 455.2L908.3 454.9L905.5 455.9L904.8 452.6L907.3 451.0L905.8 446.9L903.1 444.6L898.9 443.0L894.8 441.4L892.0 441.8L891.8 439.9L889.3 437.9L894.0 436.7L890.2 436.0L887.4 433.8L886.3 433.1ZM899.1 431.6L901.3 432.2L900.5 432.8ZM899.1 434.4L902.7 434.6L901.0 435.1ZM884.6 429.3L887.4 429.6L886.3 430.3ZM882.9 435.1L884.9 434.7L884.3 435.7ZM934.5 446.6L936.4 446.6L939.2 445.0L942.0 444.6L943.5 442.4L945.7 442.4L945.4 445.0L943.4 446.9L940.5 448.8L937.7 449.1L935.0 447.8ZM941.6 437.3L944.9 439.5L947.7 442.7L947.9 444.3L946.3 442.4L943.6 439.2ZM930.0 435.4L932.2 435.4L931.1 436.0ZM952.0 445.0L953.9 447.2L955.5 450.1L954.4 450.7L952.8 448.2ZM957.1 450.4L959.8 452.3L959.0 452.5ZM962.0 453.3L966.1 455.9L965.2 456.2ZM968.3 455.9L970.1 458.7L969.2 459.1ZM965.4 458.7L968.6 459.7L967.8 460.7L965.6 460.0ZM969.9 462.0L972.6 463.2L971.5 463.6ZM958.9 454.9L960.8 456.2L959.9 456.8ZM983.5 476.2L985.1 477.1L984.6 479.4L983.5 478.8ZM984.7 480.4L986.3 481.7L985.4 482.3ZM987.0 485.6L987.7 485.9L987.1 486.4ZM988.7 489.2L989.5 489.5L988.9 490.2ZM974.4 493.8L976.9 495.5L979.4 497.8L981.7 500.7L980.5 501.4L977.8 499.1L975.4 496.4ZM1012.1 485.6L1014.1 485.0L1015.9 486.3L1014.4 487.7L1012.2 487.2ZM1016.0 483.0L1018.7 481.4L1020.1 481.0L1018.8 483.0L1016.5 483.6ZM917.6 463.2L920.0 469.0L920.5 473.9L922.4 474.9L924.3 478.8L925.2 483.3L925.7 486.9L927.2 491.0L929.5 492.8L932.3 495.1L933.1 497.3L934.0 501.1L936.9 502.4L936.5 505.1L937.8 506.2L940.6 509.4L941.5 511.1L942.5 509.4L941.7 513.1L941.2 518.1L941.7 522.4L938.9 528.7L938.0 532.1L934.1 537.0L932.1 540.3L930.6 542.5L927.7 547.8L925.9 553.1L920.3 554.6L917.3 556.3L915.1 558.8L913.1 556.7L912.0 554.6L911.1 556.0L907.5 557.9L903.8 556.2L902.8 556.2L899.9 554.6L898.7 551.0L899.1 547.1L897.7 546.4L896.3 546.4L896.8 543.9L895.8 541.5L895.0 544.6L892.5 545.0L892.4 543.9L894.6 540.8L896.2 538.0L896.3 535.9L894.0 539.4L891.4 542.2L889.8 543.6L888.9 543.9L887.8 542.5L887.4 538.4L886.4 536.6L885.1 534.4L880.8 533.9L878.7 532.1L872.9 532.6L867.1 534.7L862.8 535.9L858.6 537.3L856.7 540.4L852.4 540.4L847.2 540.6L844.2 542.4L840.9 544.5L837.4 544.3L833.8 542.0L833.8 539.4L835.6 538.4L836.6 533.9L835.9 530.4L835.5 527.0L835.0 522.9L834.0 519.2L832.7 514.1L832.1 513.9L834.1 514.1L835.0 513.4L833.4 510.1L833.4 508.1L834.5 505.1L836.3 499.4L836.5 501.4L838.4 499.1L841.6 496.8L843.9 495.8L849.0 494.5L853.0 493.1L857.4 490.2L859.6 486.9L859.9 483.6L862.0 481.7L863.7 485.0L864.5 481.4L866.6 478.8L868.8 475.8L871.1 473.9L873.7 473.1L876.0 475.5L877.0 477.1L879.2 476.8L881.1 473.9L880.7 472.3L883.1 469.7L884.9 468.9L886.8 468.1L889.6 467.8L888.9 464.9L891.0 466.1L893.8 467.1L897.0 468.1L899.3 467.4L901.8 468.1L900.7 471.3L898.6 473.9L897.0 476.8L898.5 479.1L902.5 481.0L906.4 483.6L907.9 485.4L910.6 485.6L913.3 480.4L914.5 475.5L914.6 470.7L915.3 469.4L916.4 464.2ZM909.3 564.6L912.4 566.3L915.2 565.7L918.0 565.0L918.8 565.2L917.8 569.4L916.2 573.0L914.3 573.0L912.4 575.3L910.4 574.9L909.3 571.6L909.6 569.4L908.9 566.4ZM908.0 560.6L908.5 561.0L908.2 562.5L907.7 562.1ZM918.6 561.4L919.5 562.1L918.9 563.5L918.3 562.8ZM891.1 546.9L893.6 546.4L895.1 547.3L893.3 548.0L890.9 547.8ZM883.9 465.5L886.1 465.2L886.9 466.1L884.9 466.8L883.5 466.5ZM900.0 473.3L901.4 473.3L901.0 474.7L899.9 474.5ZM989.7 542.2L990.9 544.3L993.2 545.0L993.6 547.8L993.4 550.8L995.6 549.6L996.2 551.3L996.5 553.7L998.9 554.9L1002.8 553.8L1000.4 557.4L999.6 559.2L996.7 560.3L996.5 562.1L994.9 563.9L990.3 567.9L989.3 566.8L990.3 565.0L991.1 561.9L988.8 560.6L988.4 559.6L989.6 558.7L991.6 556.0L992.6 554.2L992.5 551.3L992.2 549.2L990.8 546.0L989.9 545.0L989.6 542.9ZM984.5 563.9L984.8 565.7L985.3 566.6L988.3 565.7L987.5 568.5L985.3 570.8L982.8 573.0L982.3 575.8L981.0 576.4L976.8 578.2L975.3 580.8L973.6 583.7L970.5 586.1L966.6 586.5L965.1 585.0L962.5 584.8L962.7 583.1L964.8 580.5L967.5 578.2L969.2 576.7L972.8 575.3L976.1 573.0L978.5 571.0L980.3 568.5L982.6 565.0ZM964.1 587.2L965.8 587.0L965.6 588.4L963.9 588.9ZM658.6 467.4L661.0 473.9L661.7 478.4L659.7 478.8L658.4 484.6L658.4 487.4L656.5 493.5L654.0 501.1L651.1 509.7L645.8 511.9L642.6 509.7L642.0 504.7L641.1 500.7L644.0 494.5L643.4 489.5L643.8 485.3L645.0 481.0L650.0 479.4L652.9 476.8L654.6 473.3L656.9 470.3ZM641.7 465.5L642.6 466.1L642.0 467.1ZM646.7 469.7L647.3 470.0L646.9 470.7ZM674.0 496.4L675.7 496.8L675.1 497.9L674.1 497.4ZM679.9 493.8L681.3 493.8L681.0 495.1L680.0 494.8ZM630.9 447.5L631.7 448.2L631.7 449.4L631.1 449.1ZM632.1 444.6L632.7 445.0L632.4 446.2ZM475.6 336.8L477.5 336.0L476.9 337.5ZM478.6 337.8L479.7 337.5L479.4 338.5ZM482.7 337.5L484.1 335.5L483.8 337.2ZM472.6 335.5L473.3 335.1L473.1 336.1ZM456.1 380.9L457.0 380.2L456.7 381.2ZM452.1 374.0L452.6 373.9L452.3 374.7ZM545.3 418.5L546.6 417.2L546.3 418.5ZM539.9 428.4L540.6 427.9L540.2 428.8ZM267.3 430.3L268.7 430.9L267.9 432.2Z" fill="#dfa9ec"/>
<path d="M644.1 264.3L646.1 257.3L652.1 252.2L661.4 253.4L665.6 256.2L674.6 254.6L682.5 255.4L679.7 243.1L689.7 240.3L699.7 237.4L705.5 241.9L712.0 242.7L719.7 241.9L723.9 245.5L730.8 255.4L739.8 254.6L745.9 260.0L750.9 261.6L752.6 260.4L762.2 255.4L769.3 258.5L777.3 259.3L777.8 251.0L788.5 253.4L791.3 257.3L800.5 257.3L810.5 261.6L818.0 259.7L827.5 259.1L830.7 260.4L833.7 250.3L835.1 246.3L842.2 244.5L847.6 246.7L855.5 257.7L864.6 262.7L867.0 267.3L876.2 265.0L875.1 277.5L870.1 277.9L870.6 283.9L870.6 287.5M752.3 262.0L758.9 267.0L762.6 273.8L769.9 277.9L775.6 280.5L778.8 286.1L788.5 286.4L801.0 289.4L807.3 287.2L815.1 286.1L819.2 282.4L818.6 277.5L827.9 276.0L829.8 272.7L838.2 271.1L833.9 266.6L826.7 266.6L827.5 259.1M750.9 261.6L747.5 264.7L747.5 270.0L740.5 276.4L736.8 284.6L735.9 287.9L725.4 294.1L719.9 297.7L723.4 305.6M723.4 305.6L732.7 312.0L736.5 322.4L742.7 330.3L751.3 334.4L757.1 337.8L764.7 338.2L765.5 340.2L773.5 338.5L779.9 333.8L785.6 336.1L788.1 336.8L792.0 339.5L792.0 345.3L790.1 351.3L794.5 357.9L800.8 360.2L803.2 356.6L808.0 355.3L814.9 354.9L819.4 359.6M709.3 352.3L716.9 349.6L713.7 342.9L718.8 337.8L721.1 332.7L724.7 327.6L724.3 322.4L722.6 318.9L727.6 314.8L732.7 312.0M550.3 222.1L552.7 217.9L552.9 213.6L552.3 210.6L552.4 204.9L556.5 200.5L557.3 195.1L560.1 190.2L561.9 184.7L565.7 182.4L570.8 180.5L571.9 177.5L574.2 176.3L579.8 178.6L584.8 177.7L585.1 174.4L589.6 172.5L592.4 177.2L596.8 173.9M592.4 177.2L591.7 181.4L595.5 183.7L593.3 187.4L596.4 192.9L595.7 196.9L598.0 200.5L600.8 205.4L596.2 211.5L592.2 215.5M581.5 192.4L580.1 189.3L580.6 184.7L577.0 181.4L571.9 177.5M589.8 325.5L590.7 357.9L590.8 364.5L588.1 366.2L565.8 353.3L560.9 355.9L554.8 352.9L549.3 349.6L547.8 343.6L548.8 330.0L544.6 322.4L542.1 317.9L544.5 307.0M554.8 352.9L542.5 361.6L537.8 366.5L533.7 367.5L525.1 361.9L508.6 347.9L498.1 340.2L498.1 335.5L512.0 327.6L518.5 323.8L516.4 313.4M498.1 340.2L498.0 344.6L488.9 344.6L488.8 352.9L486.0 354.6L486.0 360.2L474.9 360.2M508.6 347.9L504.0 347.9L506.3 379.2L489.9 378.9L488.0 381.5L490.2 389.3L498.2 393.8L499.6 396.4L506.5 395.7L507.1 391.2L513.5 385.4L522.4 380.9L531.5 379.6L533.4 374.7L533.7 367.5M565.8 353.3L563.2 361.2L565.1 364.5L564.7 374.7L559.2 382.5L561.2 389.3L563.5 397.0L560.7 398.3L564.9 405.0L573.5 403.4L584.3 394.1L585.3 388.6L582.8 387.3L588.3 378.6L588.1 366.2M588.3 378.6L587.1 397.0L598.2 398.3L607.9 397.7L616.3 398.6L616.5 394.1L623.0 383.1L628.2 371.1M556.0 448.2L568.0 447.8L568.8 452.0L576.0 451.4L582.4 452.3L582.9 464.9L588.5 463.9L592.0 466.1L597.3 466.8L602.2 472.0L600.6 467.1L601.3 459.4L607.4 455.2L603.6 448.2L603.1 438.6L604.2 433.5L608.1 422.0L603.9 414.6L598.1 412.7L584.4 415.9L573.6 417.8L571.1 430.6L566.9 436.0L566.1 441.8L558.3 443.7M554.3 484.5L560.5 485.0L573.0 485.0L586.5 485.6L582.8 470.7L588.4 470.7L588.5 463.9M566.8 522.2L576.5 521.5L576.7 509.4L583.8 513.8L592.0 512.1L596.1 505.4L602.8 500.7L608.0 501.4L609.5 507.7L609.6 513.1M378.0 415.3L375.6 418.5L369.8 421.7L365.9 422.9L360.3 424.2L355.3 422.9L354.8 412.4L350.9 415.0L343.7 416.2L342.8 424.2L335.5 425.2L335.3 422.6L327.2 423.6L328.6 432.5L327.0 442.7L318.9 445.3L316.8 452.3L319.8 459.4L325.9 459.4L325.7 464.2L328.8 464.0L336.7 460.7L340.4 460.7L340.5 466.5L347.6 470.7L354.0 473.3L355.2 481.4L360.4 481.4L361.1 492.8L362.6 500.4L368.1 501.1L369.5 506.7L372.5 506.9L372.0 512.1L374.5 517.3L369.2 521.2L364.7 527.7L369.2 529.7L377.0 539.9M327.5 488.6L329.6 485.3L331.8 491.8L333.8 498.4L337.4 503.1L336.8 506.7L333.9 508.4L334.2 516.8L331.3 521.9L331.1 530.4L331.8 538.4L331.3 547.8L330.6 557.4L330.3 569.4L331.5 579.7L332.3 588.0L331.4 595.6L331.0 602.2L333.5 607.0L343.9 608.5M329.6 485.3L330.8 481.0L328.9 475.8L331.2 469.4L328.8 464.0M361.1 492.8L351.2 492.2L349.4 500.7L354.1 506.1L363.4 511.1L361.3 517.5L368.5 518.1L372.0 512.1M323.9 391.5L320.7 393.5L318.9 399.3L320.5 402.1L321.5 406.6L327.1 406.6L334.0 409.2L333.1 414.6L335.3 422.6M298.3 439.9L298.0 443.0L301.9 445.0L303.5 439.9L311.3 433.8L312.4 429.3L316.9 432.8L321.3 437.0L327.0 442.7M302.4 424.5L306.0 427.1L312.1 429.3M642.0 297.4L640.4 304.9L644.8 310.5L646.0 317.2L651.6 325.9L654.1 331.0M686.7 311.6L687.2 317.2L687.3 325.9L690.2 327.6L688.0 331.7L702.7 331.7L703.0 327.6L710.3 324.5L711.8 318.9L713.9 310.2L723.4 305.6L714.1 301.3L705.2 306.7L701.1 305.6L696.0 309.1L691.5 313.0M663.3 288.6L671.6 291.2L670.3 277.5L677.0 275.7L683.9 280.1L698.4 292.3L703.8 292.3L711.3 287.5L720.3 285.0L735.9 287.9M622.6 269.6L627.1 266.2L626.7 260.0L621.3 258.5L614.7 256.9L610.3 249.5L604.6 250.3L601.4 253.4L594.8 252.6L583.3 252.2L584.6 256.5L581.1 260.4L580.2 264.7L591.8 265.4L596.5 275.7L600.5 276.8M583.3 252.2L582.6 243.1L590.3 235.8L594.0 234.2L601.4 236.2L604.2 243.5L604.6 250.3M558.6 243.1L559.7 248.3L559.8 251.4L561.0 254.6L560.5 255.0L553.5 257.3L558.1 263.1L556.1 268.1L548.2 268.1L541.8 267.7L543.3 262.4L538.6 260.4L537.7 255.4L537.4 251.4L540.2 245.9M541.8 267.7L537.9 273.0L540.3 274.2L539.3 277.2L541.7 282.0M517.0 283.5L523.7 285.7L530.3 287.2M498.0 289.0L505.2 290.1L503.0 297.0L501.6 305.9M581.1 260.4L580.2 264.7L575.5 273.4L582.1 279.4L582.2 282.0L589.6 282.4L597.9 282.4M619.6 310.2L621.7 307.7L636.1 306.3L642.6 305.9M776.3 361.9L778.5 354.6L781.7 346.3L788.1 336.8M794.2 387.3L797.2 392.2L795.6 376.3L791.0 369.4L798.0 363.2L800.8 360.2M803.2 356.6L811.3 364.5L808.7 366.8L812.6 370.1L819.4 377.6L820.0 382.5L820.1 389.6L816.2 393.8L812.1 395.7M798.0 363.2L799.3 366.2L801.2 366.2L801.1 372.1L804.0 370.4L809.2 370.1L811.7 373.0L814.2 378.6L813.4 383.1L820.0 382.5M807.5 391.5L805.8 385.4L809.0 382.8L813.4 383.1M855.2 296.3L859.0 292.3L861.2 289.7L864.3 290.8L867.9 287.2L870.6 287.5M861.4 304.0L863.5 302.0L866.8 300.9M827.0 422.6L833.1 425.8L840.6 424.5L842.0 421.0L843.8 415.6L849.1 415.6M914.4 437.3L913.7 458.1" fill="none" stroke="#fff" stroke-opacity="0.13" stroke-width="0.5"/>
<path d="M469.4 162.4L464.1 161.4L459.5 158.9L460.0 158.2L464.2 160.4L468.9 161.4ZM470.4 156.4L464.4 156.9L457.2 157.4L457.3 156.4L464.5 155.9L469.7 155.7ZM474.2 110.6L465.1 110.3L453.8 110.6L446.9 111.1L446.8 111.7L456.0 111.4L465.0 111.4L474.1 111.7ZM477.4 114.5L471.6 116.1L464.5 118.9L463.9 118.3L470.5 115.3L476.3 113.6ZM463.2 104.9L456.4 105.8L447.4 106.1L447.4 105.5L456.5 104.9L462.2 104.1ZM468.4 170.8L461.2 170.6L453.9 170.8L453.3 168.7L457.8 166.7L458.9 167.7L455.7 169.1L461.2 169.4L467.3 169.6ZM389.8 168.9L394.7 168.4L398.2 169.6L398.4 168.2L394.9 167.2L390.0 167.7ZM389.3 187.4L393.5 187.7L396.6 187.0L396.6 186.5L393.6 187.0L389.4 186.7ZM381.5 115.6L383.2 118.9L385.5 118.9L383.8 115.0ZM403.9 110.0L404.5 113.9L406.8 113.9L406.3 109.4ZM416.7 107.8L418.5 111.7L420.7 111.7L419.0 107.2ZM481.5 123.8L475.7 124.9L471.0 125.4L471.1 124.6L475.7 123.8L480.8 122.7ZM477.7 139.7L473.6 140.7L470.0 142.3L470.5 143.1L474.1 141.8L476.7 141.3ZM506.0 310.3L507.7 309.1L511.9 308.2L515.3 307.4L517.9 304.8L519.6 303.1L520.4 300.6L521.3 297.6L523.0 294.7L524.2 292.5L526.4 290.8L528.9 289.6L529.3 287.0L530.2 284.9L532.3 283.6L535.7 283.2L538.2 284.1L539.9 283.2L542.0 281.5L544.2 280.3L546.7 280.3L548.4 281.5L549.2 284.1L550.5 286.2L552.6 288.3L554.7 290.4L553.9 293.0L555.6 294.2L556.0 297.2L555.6 299.7L556.4 302.3L557.7 304.8L559.4 307.4L560.7 309.1L562.8 309.5L565.3 310.8L567.9 311.2L570.0 309.5L572.1 308.6L574.7 309.5L577.2 311.2L579.7 311.4L581.5 311.6L584.5 310.3L587.5 309.9L590.0 308.6L591.3 308.2L591.7 310.3L590.8 312.5L591.3 314.6L591.7 318.0L591.3 321.4L590.0 323.5L587.9 324.6L585.8 323.9L584.1 322.2L581.5 321.5L578.6 322.0L576.4 323.5L575.6 325.6L575.4 328.1L573.9 329.8L571.8 329.4L569.7 328.0L566.3 327.3L564.2 326.0L562.9 323.9L560.3 322.2L556.9 321.2L553.6 320.3L550.6 319.2L548.5 317.5L549.2 318.0L548.8 315.8L550.1 313.7L550.5 311.2L550.9 308.6L550.1 306.7L547.5 306.4L544.2 306.9L539.1 307.4L533.1 307.8L527.2 308.2L523.0 309.1L520.4 310.3L517.9 312.0L515.3 313.3L511.1 313.3L507.7 312.5L506.0 311.2ZM596.0 286.4L597.3 283.4L597.7 280.0L599.0 277.1L601.1 274.1L602.4 271.6L604.9 270.7L606.6 272.0L606.2 273.7L607.9 276.2L609.6 278.8L610.4 281.7L609.6 284.3L607.0 286.0L603.6 286.8L599.4 287.0ZM611.7 272.8L614.2 272.0L618.1 270.7L621.4 269.0L624.4 268.2L624.4 269.9L622.3 272.4L620.6 274.5L619.3 277.7L618.5 275.8L615.9 275.8L613.8 274.5ZM630.3 283.0L632.5 283.8L634.6 283.3L633.3 285.3L631.6 285.1ZM646.0 278.3L647.7 275.4L650.3 273.7L652.8 271.6L656.2 269.4L659.6 269.4L662.5 270.3L663.0 272.8L661.3 274.9L658.7 277.1L655.8 278.8L654.1 280.5L656.6 281.3L657.9 283.4L659.6 285.5L657.9 287.7L655.3 288.5L652.8 287.2L651.9 284.7L651.9 282.2L651.1 282.6L650.7 286.0L649.4 287.2L648.1 284.3L647.7 280.9ZM638.0 286.0L640.9 285.5L643.5 286.4L645.2 288.1L647.7 290.2L650.3 291.1L651.1 289.8L652.8 291.9L654.5 293.6L655.8 297.0L656.6 301.2L657.5 305.5L658.3 308.4L655.3 309.3L651.1 309.3L647.7 308.8L644.3 307.2L640.9 305.0L638.8 302.5L638.0 299.5L638.4 296.1L639.2 292.7L640.1 289.8L639.2 287.7ZM554.3 276.4L556.0 275.2L558.6 275.6L560.7 277.7L561.9 280.7L564.5 282.8L567.9 284.5L568.7 285.8L566.2 286.6L565.3 289.2L562.8 288.7L560.3 287.5L558.1 284.9L556.0 281.9L554.3 279.4Z" fill="#fff"/>
<path d="M543.7 293.0L545.8 292.1L548.0 293.0L548.0 296.4L546.7 299.3L544.6 299.7L544.0 296.4ZM545.2 286.2L546.5 285.3L547.1 287.9L546.3 290.4L545.0 290.0ZM528.1 296.8L529.7 296.2L530.6 297.6L528.9 298.5ZM531.9 295.9L533.3 295.9L533.1 297.0L532.1 296.9ZM524.1 298.9L525.2 299.1L525.0 300.2L524.2 299.9ZM576.9 317.5L579.8 315.8L583.2 315.0L585.3 314.2L584.1 315.8L581.9 318.0L579.4 319.2L577.3 318.8ZM584.9 312.0L587.5 311.6L590.4 312.2L587.5 313.1L585.3 312.9Z" fill="#dfa9ec"/>
<path d="M87.1 245.5L89.2 244.7L91.3 243.7L91.4 242.5L89.5 242.9L87.1 244.5ZM92.3 242.3L93.7 241.9L93.2 242.7ZM82.9 247.3L85.0 246.3L86.8 244.9L85.9 244.5L83.5 246.1ZM79.5 247.9L81.4 247.1L80.4 248.3ZM69.8 250.7L72.8 250.1L73.3 249.5L70.3 249.9ZM66.1 250.7L68.3 250.5L69.2 249.3L67.0 249.5ZM60.5 252.2L61.9 251.8L62.5 250.7L61.1 250.9ZM57.3 252.0L58.8 251.6L58.8 250.9L57.7 251.0ZM48.6 253.2L50.9 252.6L51.4 251.8L49.1 252.4ZM45.9 251.2L47.0 250.9L47.1 250.1ZM36.4 249.3L37.5 249.1L37.5 248.5ZM34.5 247.5L36.8 247.5L37.4 246.7L35.0 246.7ZM197.5 264.7L194.0 264.1L191.6 262.0L189.5 259.7L187.0 258.1L186.3 255.4L188.9 255.4L192.2 257.1L194.0 258.1L195.8 260.8L197.2 262.7ZM180.4 250.7L178.9 247.5L177.7 245.1L177.5 242.1L181.0 242.5L179.7 245.5L180.0 248.3ZM181.2 238.6L178.5 237.4L177.9 234.6L176.7 232.5L175.0 229.6L173.7 225.9L175.9 225.5L176.9 228.4L178.3 230.5L180.0 231.7L180.8 234.6L181.8 236.6ZM132.5 228.0L130.1 230.5L126.7 231.7L125.7 229.2L128.6 227.1L131.1 225.9L132.9 225.1L133.5 226.3ZM101.5 217.9L99.0 218.5L97.5 217.0L99.4 216.2L101.3 216.4ZM99.1 203.6L95.9 204.0L92.0 203.2L94.2 201.8L96.6 202.3L98.7 203.2ZM291.3 403.3L291.0 402.3L289.9 402.1L289.1 402.0L289.3 400.5L287.8 398.8L286.4 398.1L285.9 397.0L285.3 398.3L283.7 397.3L283.2 395.7L283.8 394.1L283.5 393.1L281.7 390.9L280.4 389.3L278.8 387.7L279.6 387.0L278.3 386.7L276.3 386.7L274.1 385.7L272.0 384.9L269.5 384.4L267.3 383.5L266.0 382.2L264.2 379.6L261.8 377.6L259.6 377.0L258.0 377.3L255.9 378.4L254.3 378.7L251.0 377.8L247.8 375.8L245.4 374.8L242.4 373.4L239.2 371.2L235.7 370.1L233.4 367.5L231.9 366.5L230.2 363.2L231.5 362.2L230.9 360.9L231.9 359.6L230.8 356.3L229.1 353.9L226.6 350.6L225.0 348.1L221.9 345.9L222.0 342.2L219.2 340.2L218.3 338.2L216.7 336.3L215.3 334.4L214.2 330.3L213.8 326.9L211.8 325.5L209.7 324.8L208.9 327.6L209.2 331.0L211.3 333.8L212.6 336.1L213.4 338.8L214.5 340.9L216.2 342.9L216.5 345.3L217.6 347.9L217.9 350.3L219.5 350.6L220.2 352.3L220.7 353.9L219.2 355.0L218.4 352.9L216.7 350.9L214.7 349.6L213.7 347.9L214.2 345.3L213.1 343.6L211.4 342.1L209.5 341.2L208.1 339.9L207.0 338.3L209.1 338.3L209.8 336.5L208.7 334.4L206.3 332.0L205.6 329.3L204.9 326.6L204.3 324.8L203.5 322.4L203.2 320.7L201.4 318.3L200.5 317.2L198.7 316.7L195.4 315.5L195.3 313.4L193.9 311.2L192.8 308.1L192.4 306.8L191.7 304.9L191.9 303.8L190.7 303.1L189.3 299.9L189.6 297.0L188.5 294.5L189.7 292.3L190.1 289.0L189.9 285.7L191.7 281.3L192.9 277.5L194.0 273.0L194.2 270.4L193.4 266.6L193.8 264.7L196.8 265.6L198.6 265.8L198.8 268.5L199.5 267.7L199.8 265.0L199.5 262.7L198.6 261.2L197.1 259.7L195.1 258.1L193.3 256.5L191.0 255.4L188.9 254.6L188.6 252.2L189.0 249.9L187.9 247.9L187.2 245.5L185.6 243.5L184.6 241.5L185.9 238.6L184.5 236.2L182.9 233.3L181.4 230.5L180.2 227.6L179.0 225.5L177.9 223.0L177.6 220.4L176.3 223.4L174.1 224.6L172.3 224.6L170.5 223.0L169.0 221.3L166.7 219.6L164.9 218.9L162.7 217.9L158.4 217.7L155.3 217.0L153.2 215.8L151.5 214.0L149.0 213.2L146.6 214.9L146.3 217.5L142.8 218.7L139.0 220.4L135.7 221.3L136.4 219.2L138.9 215.3L142.1 213.4L143.8 211.9L141.0 212.7L138.2 214.5L135.0 217.0L132.0 220.0L129.4 221.7L130.4 223.4L127.8 225.9L124.7 227.6L121.4 229.6L117.5 232.1L113.9 234.6L109.8 236.0L105.4 237.8L101.9 239.1L99.9 239.5L95.9 240.7L96.1 239.3L100.1 238.2L103.3 236.2L107.7 234.6L110.9 232.7L115.5 229.6L119.3 225.9L121.6 223.0L118.4 223.4L116.3 224.2L113.8 222.7L110.2 223.6L108.7 223.4L110.5 220.4L110.1 217.9L108.1 218.7L105.2 218.3L103.5 215.3L104.1 212.3L103.0 211.0L105.2 208.0L108.2 205.4L109.9 204.0L112.7 204.7L115.9 202.7L119.6 201.0L121.2 197.8L119.3 198.3L115.9 198.7L112.7 198.1L109.6 198.3L107.3 197.2L106.0 194.7L104.8 193.3L108.2 191.8L112.6 189.9L115.9 189.0L116.4 191.1L119.5 191.3L122.2 190.2L121.1 188.3L119.9 187.0L118.3 186.1L117.9 183.3L115.6 181.9L113.1 180.7L115.6 178.2L119.8 177.9L124.1 175.3L127.2 173.0L131.7 170.8L135.5 169.1L139.3 168.7L143.6 166.5L146.8 168.2L150.2 168.7L153.6 169.4L156.7 170.8L160.4 170.6L163.5 172.0L168.1 172.7L173.1 172.5L178.4 174.6L182.5 175.3L185.9 177.7L189.7 177.2L192.8 175.3L196.4 175.6L200.6 173.9L204.7 172.5L208.2 173.0L211.4 170.3L213.2 172.5L214.7 175.3L217.9 173.0L219.3 172.2L219.0 175.8L222.4 174.1L226.0 174.1L230.4 176.0L234.7 177.9L239.1 179.6L242.3 181.4L238.9 183.1L244.1 183.5L249.1 183.3L253.0 182.6L254.9 184.7L255.4 187.4L257.0 187.0L257.8 182.8L260.8 181.0L263.6 179.6L266.6 182.4L270.0 183.3L273.6 183.5L277.4 183.3L280.7 181.9L282.6 179.8L285.8 180.7L285.6 184.7L287.8 182.8L289.6 180.5L288.3 177.7L287.7 173.9L288.1 169.1L290.6 165.8L294.0 163.6L296.2 165.8L297.1 169.1L298.7 172.5L297.7 174.9L300.4 175.8L300.8 179.6L303.3 177.2L305.8 180.0L305.8 183.7L307.6 185.6L310.4 183.7L312.4 179.1L314.2 175.3L316.6 173.9L320.9 174.4L322.8 177.2L321.7 180.5L319.5 183.7L321.2 186.5L318.4 189.3L314.1 190.2L310.8 190.4L308.3 189.3L308.7 192.4L305.2 194.7L301.7 198.3L303.4 200.1L299.5 200.5L296.0 201.8L294.1 204.0L290.7 205.8L287.7 209.3L284.3 213.6L281.6 217.9L281.2 221.3L281.8 223.0L284.9 223.2L284.8 228.4L284.7 230.5L288.7 229.4L293.6 231.1L296.8 234.6L301.6 236.6L305.2 237.6L309.6 238.0L309.0 242.7L308.4 246.7L310.0 249.9L311.6 252.6L314.1 253.4L316.2 251.4L317.0 247.9L317.0 244.7L316.9 241.9L316.0 239.9L319.3 238.2L323.1 235.4L325.2 232.1L325.8 228.4L324.3 225.1L321.8 223.0L324.2 219.6L325.4 217.0L324.6 214.0L325.5 210.6L325.4 208.0L327.4 206.9L331.7 208.0L335.0 208.0L338.2 208.4L340.3 210.6L341.0 212.7L344.9 213.4L345.3 217.5L344.5 221.3L345.3 223.0L347.5 225.1L350.9 224.2L353.2 223.0L355.7 219.2L358.2 216.2L358.8 219.2L360.9 222.5L362.3 225.5L363.9 228.8L364.2 232.1L366.2 235.0L367.6 237.8L370.8 239.1L373.5 240.7L370.4 242.3L372.9 243.1L375.6 244.7L376.8 247.5L376.8 250.7L373.4 253.0L369.1 253.8L364.8 257.3L359.6 257.5L354.3 257.3L348.0 257.7L345.3 260.8L341.9 262.7L338.3 265.8L335.8 269.2L333.8 270.8L337.2 268.5L341.1 264.9L345.9 262.4L351.2 261.4L353.1 263.1L351.0 265.4L347.3 266.0L350.1 267.0L350.5 269.6L351.0 272.7L353.0 273.8L356.0 274.9L358.7 275.1L360.6 271.9L362.1 270.0L362.4 272.3L363.6 273.8L360.8 275.3L359.8 276.6L356.0 277.9L352.9 279.0L350.4 280.9L347.2 283.3L345.7 282.0L346.6 279.0L349.8 276.6L351.3 274.7L348.2 276.4L346.3 277.0L344.1 277.5L343.7 278.7L340.6 280.1L338.4 281.1L335.6 282.2L334.1 283.9L333.1 285.7L333.5 286.3L332.3 287.4L333.2 288.8L334.8 289.4L335.0 288.5L334.9 289.9L332.8 290.3L330.9 290.6L328.7 291.2L326.0 291.7L324.2 292.8L327.5 292.3L329.4 292.1L327.4 293.0L324.1 293.7L323.5 294.3L323.0 297.0L321.7 298.6L320.4 299.7L319.4 297.7L319.9 300.2L319.3 303.1L317.4 305.9L316.5 304.5L316.5 301.7L316.5 298.8L316.0 302.0L315.8 305.6L316.8 307.0L317.1 309.5L317.5 312.8L314.6 314.9L312.1 315.8L310.4 317.6L307.4 319.6L304.7 321.7L301.8 324.1L300.1 327.6L299.8 330.0L300.6 333.8L301.6 336.5L302.2 340.5L302.3 343.9L301.4 346.8L299.7 347.4L298.9 346.9L297.6 344.7L296.6 341.9L295.5 339.2L295.4 336.1L294.3 333.4L292.7 330.8L290.1 332.0L288.9 332.1L287.3 330.0L284.0 329.8L281.9 329.7L279.1 329.8L277.4 330.5L277.8 332.0L278.4 334.3L277.4 334.4L276.0 333.8L273.3 333.8L271.2 332.7L269.0 332.6L265.8 332.0L263.2 333.2L260.8 335.1L257.9 336.8L255.8 339.2L254.9 341.9L255.4 344.7L253.8 347.9L253.0 351.3L252.6 355.3L252.5 357.1L253.6 360.2L253.7 362.2L255.4 365.0L256.4 367.2L257.4 368.8L259.8 369.4L260.9 370.6L264.8 369.8L267.6 369.0L269.2 369.4L271.0 367.2L272.0 365.0L272.4 361.9L273.7 360.7L277.9 359.6L281.8 359.2L282.6 360.7L280.6 363.9L280.2 366.5L279.1 370.1L278.1 369.4L277.9 372.7L277.4 376.0L275.6 377.9L276.7 378.4L278.9 378.1L282.3 378.3L283.7 377.6L286.4 377.8L289.2 378.3L290.8 380.0L291.4 380.9L290.6 384.1L290.2 387.3L289.8 390.6L289.2 393.8L291.2 397.0L292.5 398.5ZM358.1 209.7L354.4 209.3L350.8 208.0L347.3 206.2L342.8 203.2L340.7 200.5L337.3 198.7L333.6 198.3L330.9 199.6L327.8 199.0L327.1 197.4L329.4 194.2L335.5 194.7L337.8 196.0L339.4 193.8L339.3 190.2L341.8 187.0L343.5 184.7L341.4 182.4L338.0 181.0L334.7 178.6L332.7 176.3L330.8 173.9L328.4 173.7L323.6 173.2L321.1 173.7L316.4 173.0L313.0 171.5L308.3 171.1L305.2 168.7L304.9 166.7L305.1 163.3L307.5 158.4L310.5 155.4L316.8 154.2L319.2 155.0L317.7 158.9L315.3 163.3L317.8 164.8L319.9 159.4L323.8 155.0L328.5 155.0L329.5 158.4L327.1 161.9L330.9 160.9L330.9 155.0L335.6 155.4L339.3 158.4L335.8 160.4L339.3 160.9L341.4 162.4L343.0 164.3L346.9 165.3L349.0 167.2L350.3 169.6L353.3 170.1L355.5 171.5L356.5 173.0L358.5 175.3L356.2 177.7L359.0 180.0L363.4 183.3L365.5 185.6L368.9 187.0L370.4 188.8L368.8 191.5L366.8 193.3L363.9 196.0L361.7 193.8L359.6 191.5L356.1 190.2L353.7 189.7L354.4 193.3L357.7 196.0L359.7 198.7L361.2 202.3L359.5 205.4L356.4 204.0L352.9 202.7L350.3 201.6L352.6 204.9L356.0 207.1ZM273.1 177.7L268.7 178.6L264.2 177.2L257.6 179.1L251.3 179.6L245.1 180.0L239.9 176.7L236.9 174.4L239.8 172.7L246.1 172.0L250.0 171.1L245.6 169.6L237.2 170.1L235.3 168.2L240.4 166.5L236.7 165.3L235.2 163.8L238.6 160.4L242.9 158.2L248.1 156.7L249.6 159.9L254.1 160.9L258.4 158.4L263.6 156.9L268.9 155.0L272.1 156.4L269.4 159.4L263.4 161.9L261.9 164.8L266.6 163.3L269.4 166.7L269.2 169.1L274.2 171.5L276.0 173.9ZM224.4 167.7L220.4 163.3L220.4 160.4L224.4 155.9L226.4 151.9L233.2 150.9L239.8 152.5L242.0 155.4L245.5 157.4L239.8 160.4L235.3 163.3L230.8 166.2L226.9 167.2ZM282.6 166.7L277.5 163.3L276.1 159.4L280.7 155.4L284.8 153.5L289.3 154.5L289.5 158.4L290.1 160.9L286.7 164.8ZM294.3 163.3L292.6 159.4L293.9 155.0L298.0 153.0L303.8 153.5L306.6 155.0L304.8 159.4L299.2 162.8ZM286.8 179.6L280.8 179.1L278.6 177.2L283.4 173.4L286.8 174.4L288.7 176.7ZM321.4 201.4L317.9 202.7L314.3 201.8L314.1 200.1L310.2 203.6L307.3 204.0L304.3 201.8L306.0 198.3L308.4 193.8L310.8 191.5L313.5 192.9L314.3 195.1L317.6 197.4L319.8 199.2ZM318.1 205.4L312.9 205.4L313.0 208.4L315.8 207.1ZM322.5 207.5L319.8 208.4L320.1 211.0L321.8 209.7ZM336.2 184.2L332.2 185.6L332.3 182.4L335.4 181.4ZM271.9 148.4L268.2 148.9L262.1 149.4L256.9 150.9L252.0 151.4L250.1 149.9L244.9 147.4L244.5 144.9L249.0 141.8L253.6 142.3L257.2 145.9L260.9 145.4L263.1 141.8L266.2 139.2L266.2 143.3L270.9 143.3L272.7 145.4ZM289.6 148.4L283.7 148.4L279.7 145.9L278.3 142.3L284.8 139.7L289.4 140.2L291.9 143.3L290.8 145.9ZM300.3 148.4L296.2 150.4L293.2 148.4L296.3 145.4L299.7 145.9ZM333.3 146.9L330.7 150.4L322.3 150.9L312.7 150.9L304.7 149.9L303.7 145.9L305.3 142.3L300.7 141.8L295.4 139.7L299.3 138.1L304.8 139.7L308.2 140.2L311.0 143.3L310.5 145.4L318.9 144.9L326.1 144.3L330.8 144.3ZM332.4 142.3L338.6 140.7L339.8 137.1L346.2 131.8L348.7 127.6L355.9 123.8L361.1 120.5L368.7 116.7L375.0 113.4L381.4 109.4L383.4 108.3L379.6 106.6L370.8 105.2L363.4 104.9L352.8 105.2L343.6 105.8L334.0 108.3L326.9 110.0L321.7 112.8L314.6 113.9L314.6 118.3L321.2 119.4L324.4 120.5L325.7 124.9L320.5 127.6L321.8 131.8L316.0 131.8L312.7 136.0L312.7 140.7L317.3 141.3L323.2 141.3L327.9 141.3ZM318.3 131.8L310.2 131.8L305.4 127.6L301.8 123.8L302.9 119.4L309.7 115.0L314.1 115.6L320.1 119.4L321.4 123.8L320.5 127.6ZM291.2 133.4L283.9 134.5L278.9 131.3L278.8 127.6L285.0 126.0L290.1 128.6ZM302.8 133.4L296.9 133.9L295.3 130.8L298.2 128.6L302.4 130.2ZM246.2 143.3L238.9 143.8L233.6 142.3L238.4 138.1L243.9 135.5L250.9 135.5L250.8 139.7ZM264.9 135.5L258.8 136.6L256.1 133.9L260.7 130.2L265.0 131.3ZM267.3 131.3L260.8 129.7L259.2 131.3L262.5 131.8ZM296.0 123.8L291.5 123.3L293.4 120.5L296.6 121.6ZM376.9 252.2L373.5 254.6L371.6 257.7L369.6 261.2L367.2 264.3L365.6 267.0L368.9 267.7L372.9 267.7L374.5 270.0L376.1 270.4L378.7 270.8L380.4 271.5L381.8 271.1L383.0 268.1L382.3 265.8L380.3 264.3L381.4 261.6L378.9 260.4L376.3 259.7L374.6 258.5L375.4 255.8L377.0 253.8ZM359.8 262.0L356.5 261.0L352.8 258.9L356.8 259.1L359.2 260.4ZM357.9 272.3L355.1 273.8L352.2 271.5L352.9 270.0L355.3 271.9ZM313.3 246.7L310.1 247.1L309.6 245.9L312.2 245.5ZM319.1 234.6L316.4 235.4L315.9 232.5L318.6 231.7ZM359.0 212.3L357.0 211.9L357.8 210.2L359.2 211.0ZM287.8 358.4L289.9 356.9L292.8 354.8L295.1 354.1L298.9 354.3L301.6 354.9L304.3 356.6L307.5 358.3L309.6 359.2L312.3 360.7L314.9 362.2L317.2 363.7L314.8 364.9L312.0 364.7L307.3 365.0L308.8 363.2L306.7 362.2L305.2 359.6L302.7 358.9L300.1 357.8L296.5 357.3L293.9 355.8L292.1 357.3L289.6 358.3ZM294.2 359.2L292.8 358.6L293.4 358.1L294.4 358.4ZM305.3 369.9L306.8 369.4L309.3 369.8L311.2 370.8L310.8 371.5L308.3 371.9L306.2 371.1ZM316.0 369.9L317.8 370.9L321.4 370.4L323.5 371.7L324.3 372.4L325.5 370.4L328.3 369.8L331.1 369.8L332.9 369.1L332.0 368.0L330.7 366.8L328.6 365.5L325.8 364.9L323.9 364.9L320.9 364.7L319.2 365.0L320.8 366.5L321.7 369.1L320.1 369.4L316.8 369.0ZM336.1 369.4L340.5 369.8L339.9 371.1L336.0 371.2ZM306.8 347.6L308.2 347.6L308.5 350.6L306.9 350.3ZM309.5 341.5L310.8 342.6L310.1 344.6L309.3 343.6ZM305.3 342.2L308.1 342.1L308.0 342.9L305.6 342.9ZM318.6 360.6L320.3 360.2L320.0 361.4L318.9 361.4ZM350.7 376.6L352.4 376.1L351.5 377.6ZM352.2 381.3L353.2 381.8L352.7 382.8Z" fill="#9c27b0"/>
<path d="M178.4 174.6L164.6 216.6L169.4 216.6L171.8 222.1L175.0 220.0L177.9 218.7L178.5 220.9L181.4 224.2L183.4 230.5L187.5 234.6L185.9 238.6M318.5 280.5L323.7 277.5L332.2 277.5L336.0 271.9L339.4 268.3L341.7 268.7L342.8 270.0L342.3 274.9L344.1 277.5M266.3 382.3L266.4 379.9L267.9 377.3L271.5 377.3L270.1 373.5L275.3 371.7L274.8 377.9L275.6 377.9M279.3 387.3L281.3 386.4L283.3 384.4L286.2 381.8L291.0 380.9M283.8 393.5L286.3 393.8L289.3 394.1" fill="none" stroke="#e6b8ee" stroke-opacity="0.3" stroke-width="0.5"/>
<path d="M323.6 119.2L331.8 118.3L339.0 117.0L346.3 114.8L347.3 115.3L339.9 117.8L331.5 119.4L324.5 120.3ZM376.3 112.5L369.3 113.6L360.9 115.6L362.0 116.1L370.3 114.5L375.7 113.4ZM323.9 127.6L329.7 127.8L335.3 128.6L335.1 129.4L329.4 128.9L323.7 128.6ZM316.9 132.9L322.5 133.9L327.1 134.2L326.9 135.0L321.1 135.0L315.5 133.9ZM340.0 136.3L335.9 136.6L331.4 135.8L332.1 135.0L336.1 135.5L339.6 135.5ZM349.8 125.4L345.2 125.7L340.8 124.3L342.1 123.5L346.5 124.6L350.0 124.3ZM353.8 123.0L348.1 122.7L346.0 121.6L349.4 121.6L353.9 122.2ZM338.5 129.7L333.8 130.2L331.6 129.7L335.2 129.2ZM316.3 156.4L316.5 160.9L314.3 165.8L312.9 165.3L314.6 160.9L314.3 156.9ZM361.5 195.6L358.2 192.9L354.8 190.6L353.9 191.5L356.7 194.2L359.9 197.4ZM328.9 158.9L332.4 159.7L336.0 159.7L335.8 160.4L332.2 160.6L328.2 159.9ZM255.8 183.3L255.5 187.0L255.9 189.3L256.8 188.8L256.8 186.1L257.3 183.1ZM278.6 271.0L281.5 270.4L282.9 271.7L286.8 270.6L288.9 268.9L290.6 268.3L288.9 270.4L290.8 271.9L294.6 271.5L297.3 271.0L298.2 271.9L298.2 270.0L298.0 266.6L295.8 263.5L293.2 263.3L290.1 262.7L287.1 265.0L284.7 267.0L281.8 268.9ZM287.7 289.9L289.6 289.5L291.6 286.8L292.4 283.1L291.9 280.5L293.6 277.9L295.1 276.8L296.7 274.7L294.2 274.0L291.4 274.9L289.5 277.2L288.1 279.2L290.4 276.8L289.4 279.8L288.0 283.9L287.5 287.5ZM297.6 274.3L300.5 276.4L300.5 280.1L298.6 282.6L301.4 281.1L302.2 285.0L304.2 283.9L304.8 279.8L306.3 276.8L307.6 278.7L309.4 279.4L309.5 276.4L307.4 274.0L303.6 273.4L299.9 273.0L298.2 273.8ZM298.9 289.7L301.2 290.8L303.4 290.5L306.8 288.8L311.2 285.9L308.4 286.4L307.1 286.6L304.4 286.4L301.5 288.6L299.9 288.6ZM309.3 283.9L311.4 284.0L315.4 284.0L319.0 282.7L319.0 280.7L315.8 281.3L313.1 281.6L310.5 282.6Z" fill="#fff"/>

</g>
<!-- leader lines and markers -->
<path class="dash" d="M540.3 117.5L541.8 247"/>
<path class="dash" d="M148 309L268 307.3"/>
<path class="dash" d="M246 516.3L338 516.5"/>
<path class="dash" d="M600 442.8L703 442.8"/>
<path class="dash" d="M824 342.2L945 340.1"/>
<circle class="dot" cx="542.1" cy="253.1" r="5.6"/>
<circle class="dot" cx="275.4" cy="306.7" r="7.3"/>
<circle class="dot" cx="345.3" cy="516.6" r="7.3"/>
<circle class="dot" cx="594" cy="442.8" r="5.5"/>
<circle class="dot" cx="818.5" cy="342.8" r="5.5"/>
<!-- headings -->
<text x="18.2" y="51.4" class="b" font-size="43" fill="#111" stroke="#111" stroke-width="1.1" textLength="520.4" lengthAdjust="spacingAndGlyphs">Multi-Sensory AI Market</text>
<text x="15.6" y="92.4" font-size="26.2" fill="#111" stroke="#111" stroke-width="0.2" textLength="314.6" lengthAdjust="spacingAndGlyphs">Regional Analysis in 2024</text>
<!-- region labels -->
<text x="499.3" y="101.9" class="lbl" textLength="89.6" lengthAdjust="spacingAndGlyphs">Europe</text>
<text x="15.0" y="346.7" class="lbl" textLength="185.8" lengthAdjust="spacingAndGlyphs">North America</text>
<text x="33.2" y="376.3" class="lbl" textLength="150" lengthAdjust="spacingAndGlyphs">USD 5.50 Bn</text>
<text x="38.0" y="525.6" class="lbl" textLength="177.5" lengthAdjust="spacingAndGlyphs">Latin America</text>
<text x="725.3" y="450.8" class="lbl" textLength="54.8" lengthAdjust="spacingAndGlyphs">MEA</text>
<text x="952.4" y="346.6" class="lbl" textLength="70" lengthAdjust="spacingAndGlyphs">APAC</text>
<!-- footer -->
<rect x="0" y="628.4" width="1065" height="79.6" fill="url(#fg)"/>
<text x="17.9" y="662.6" class="ft" textLength="584.6" lengthAdjust="spacingAndGlyphs">North America is Expected to Hold the Largest</text>
<text x="17.9" y="692.8" class="ft" textLength="393" lengthAdjust="spacingAndGlyphs">Multi-Sensory AI Market Share</text>
<!-- logo -->
<g id="logo">
<g fill="none" stroke="#6c2a96" stroke-opacity="0.7" stroke-width="8" stroke-linecap="round" transform="translate(0,5)">
<path d="M794.7 661.5A11.8 11.8 0 0 1 818.3 664.9L818.3 674A11.8 11.8 0 0 0 835.5 684.5"/>
<path d="M806.3 664.9L806.3 674M830.9 656.9L830.9 674M843.1 652.7L843.1 674"/>
<circle cx="794.3" cy="673.7" r="0.2"/>
</g>
<g fill="none" stroke="#fff" stroke-width="8" stroke-linecap="round">
<path d="M794.7 661.5A11.8 11.8 0 0 1 818.3 664.9L818.3 674A11.8 11.8 0 0 0 835.5 684.5"/>
<path d="M806.3 664.9L806.3 674M830.9 656.9L830.9 674M843.1 652.7L843.1 674"/>
</g>
<circle cx="794.3" cy="673.7" r="4.2" fill="#fff"/>
<text x="859.6" y="673.8" class="b" font-size="31.5" fill="#fff" stroke="#fff" stroke-width="0.9" textLength="169.6" lengthAdjust="spacingAndGlyphs">market.us</text>
<text x="861.3" y="683.7" class="b" font-size="6.4" fill="#fff" textLength="167.7" lengthAdjust="spacing">ONE STOP SHOP FOR THE REPORTS</text>
</g>
<!-- frame -->
<rect x="0" y="0" width="1065" height="2" fill="#5a2278"/>
<rect x="0" y="0" width="2" height="708" fill="#57216f"/>
<rect x="1062" y="0" width="2.1" height="708" fill="#541f72"/>
<rect x="1064.1" y="0" width="0.9" height="628.4" fill="#fff"/>
<rect x="0" y="705.8" width="1064.1" height="2.2" fill="#541f72"/>
</svg>
</body>
</html>
